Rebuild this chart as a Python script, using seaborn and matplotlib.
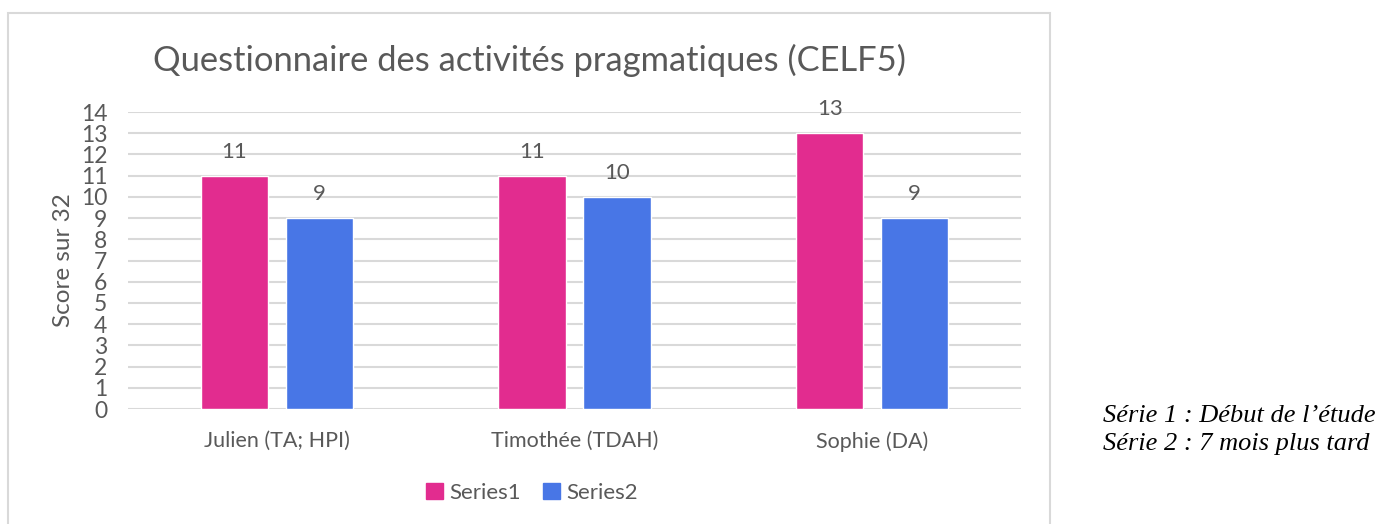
import matplotlib
matplotlib.use("Agg")
import matplotlib.pyplot as plt
import matplotlib.patches as mpatches
import seaborn as sns
import pandas as pd

categories = ["Julien (TA; HPI)", "Timothée (TDAH)", "Sophie (DA)"]
series1 = [11, 11, 13]
series2 = [9, 10, 9]
series_names = ["Series1", "Series2"]
yticks = list(range(0, 15))

df = pd.DataFrame({
    "cat": categories * 2,
    "score": series1 + series2,
    "serie": [series_names[0]] * 3 + [series_names[1]] * 3,
})

sns.set_theme(style="white")
plt.rcParams["font.family"] = ["Lato", "DejaVu Sans"]

TXT = "#595959"
GRID = "#D9D9D9"
colors = {"Series1": "#E22C8F", "Series2": "#4876E6"}

fig = plt.figure(figsize=(13.83, 5.24), dpi=100)
ax = fig.add_axes([128/1383, 1-409/524, (1021-128)/1383, (409-112)/524])

sns.barplot(data=df, x="cat", y="score", hue="serie", palette=colors,
            width=0.571, gap=0.21, ax=ax, legend=False, saturation=1)

for c in ax.containers:
    ax.bar_label(c, padding=10, fontsize=16, color=TXT)

ax.set_ylim(0, 14)
ax.set_xlim(-0.5, 2.5)
ax.set_yticks(yticks)
ax.set_yticklabels([str(t) for t in yticks], fontsize=16.5, color=TXT)
ax.tick_params(axis="y", length=0, pad=15)
ax.tick_params(axis="x", length=0, pad=16, labelsize=15.5, labelcolor=TXT)
ax.set_xlabel("")
ax.set_ylabel("Score sur 32", fontsize=17.5, color=TXT, labelpad=5)
ax.yaxis.grid(True, color=GRID, linewidth=1.5)
ax.set_axisbelow(True)
for s in ax.spines.values():
    s.set_visible(False)

fig.text(529/1383, 1-60/524, "Questionnaire des activités pragmatiques (CELF5)",
         ha="center", va="center", fontsize=24.8, color=TXT)

handles = [mpatches.Patch(color=colors[n], label=n) for n in series_names]
leg = fig.legend(handles=handles, loc="center", bbox_to_anchor=(532/1383, 1-493/524),
                 ncol=2, frameon=False, fontsize=16, handlelength=0.75, handleheight=0.75,
                 handletextpad=0.3, columnspacing=1.0)
for t in leg.get_texts():
    t.set_color(TXT)

border = mpatches.Rectangle((8/1383, -0.02), (1050-8)/1383, 1-13/524+0.02,
                            transform=fig.transFigure, fill=False,
                            edgecolor=GRID, linewidth=1.5)
fig.patches.append(border)

fig.text(1103/1383, 1-430/524, "Série 1 : Début de l’étude\nSérie 2 : 7 mois plus tard",
         ha="left", va="center", fontsize=19, style="italic",
         family=["Liberation Serif", "DejaVu Serif"], color="black", linespacing=1.4)

fig.savefig("out.png", dpi=100)
